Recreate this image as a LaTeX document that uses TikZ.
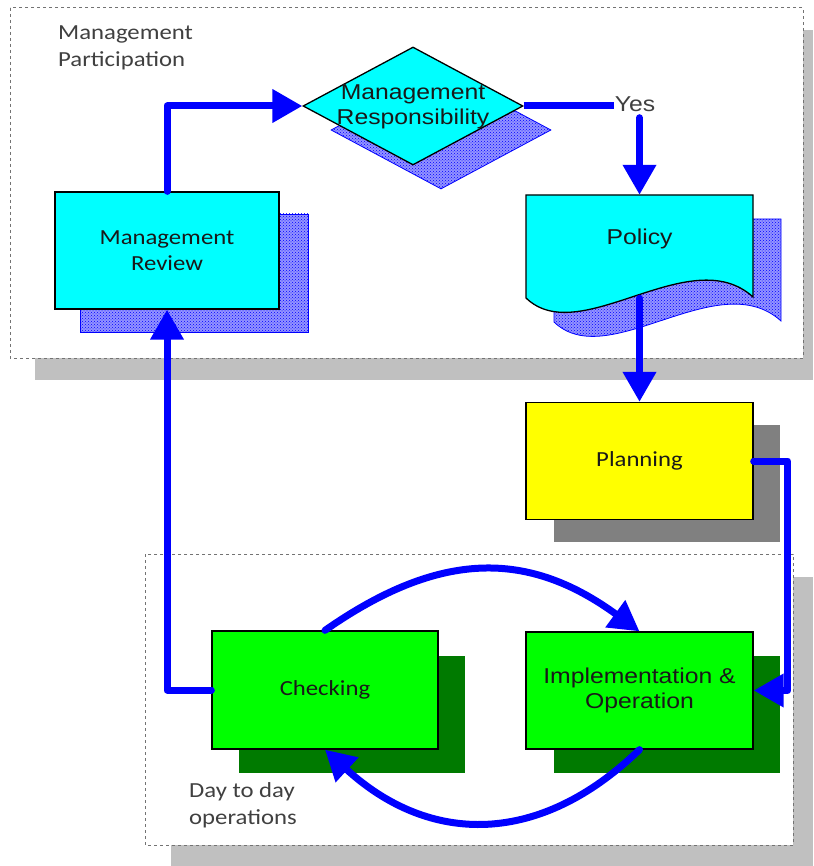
\documentclass[tikz,border=0pt]{standalone}
\usepackage{fontspec}
\setmainfont{Liberation Sans}[FakeStretch=1.15]
\newfontfamily\calfont{Carlito}[FakeStretch=1.15]
\usetikzlibrary{arrows.meta,shapes.geometric,patterns,calc}
\definecolor{shadegray}{RGB}{192,192,192}
\definecolor{midgray}{RGB}{128,128,128}
\definecolor{dkgreen}{RGB}{0,122,0}
\definecolor{labelgray}{RGB}{64,64,64}
\definecolor{mycyan}{RGB}{0,255,255}
\definecolor{mygreen}{RGB}{0,255,0}
\definecolor{myyellow}{RGB}{255,255,0}
\definecolor{myblue}{RGB}{0,0,255}
\begin{document}
\begin{tikzpicture}[x=1pt,y=-1pt,
  arialtxt/.style={font=\fontsize{21.5pt}{25.5pt}\selectfont, align=center, text=black!90},
  caltxt/.style={font=\calfont\fontsize{21.5pt}{26pt}\selectfont, align=center, text=black!90},
  labeltxt/.style={font=\calfont\fontsize{21.5pt}{27pt}\selectfont, align=left, text=labelgray, inner sep=0pt},
  boxsize/.style={minimum width=226pt, minimum height=117pt, inner sep=0pt},
  box/.style={boxsize, draw=black, line width=1.3pt},
  hatch/.style={preaction={fill=myblue!42}, pattern=crosshatch dots, pattern color=myblue, draw=myblue, line width=0.8pt},
  container/.style={draw=black!55, fill=white, line width=1pt, dash pattern=on 3pt off 3pt},
  arr/.style={draw=myblue, line width=7pt, line cap=round, line join=round, -{Triangle[length=30pt,width=32pt]}},
  plainline/.style={draw=myblue, line width=7pt}
]
\useasboundingbox (0,0) rectangle (813,866);

% container shadows and containers
\fill[shadegray] (35,30) rectangle (813,380);
\draw[container] (10,8) rectangle (803,358);
\fill[shadegray] (171,577) rectangle (813,866);
\draw[container] (145,554) rectangle (793,845);

% box shadows
\node[boxsize, minimum width=228pt, minimum height=118pt, hatch] (mrshadow) at (194,273) {};
\node[diamond, minimum width=220pt, minimum height=118pt, inner sep=0pt, hatch] (respshadow) at (441,130) {};
\path[hatch, shift={(28,24)}] (526,195) -- (753,195) -- (753,297)
  .. controls (690,240) and (580,350) .. (526,298) -- cycle;
\node[boxsize, fill=midgray] (planshadow) at (667,483.5) {};
\node[boxsize, fill=dkgreen] (implshadow) at (667,714.5) {};
\node[boxsize, fill=dkgreen] (chkshadow) at (352,714.5) {};

% main shapes
\node[box, minimum width=224pt, fill=mycyan, caltxt] (mr) at (167,250.5) {Management\\Review};
\node[diamond, draw=black, line width=1.3pt, fill=mycyan, minimum width=220pt, minimum height=118pt, inner sep=0pt] (resp) at (413,106) {};
\node[arialtxt] (resptext) at (413,107) {Management\\Responsibility};
\node[minimum width=227pt, minimum height=103pt, inner sep=0pt] (policy) at (639.5,246.5) {};
\draw[black, line width=1.3pt, fill=mycyan] (526,195) -- (753,195) -- (753,297)
  .. controls (690,240) and (580,350) .. (526,298) -- cycle;
\node[arialtxt] (policytext) at (639.5,239) {Policy};
\node[box, minimum width=227pt, fill=myyellow, caltxt] (plan) at (639.5,461) {Planning};
\node[box, minimum width=227pt, fill=mygreen, arialtxt] (impl) at (639.5,690.5) {Implementation \&\\Operation};
\node[box, minimum height=118pt, fill=mygreen, caltxt] (chk) at (325,690) {Checking};

% labels
\node[labeltxt, anchor=north west] (mpart) at (58,26) {Management\\Participation};
\node[labeltxt, anchor=north west] (dayops) at (189,782) {Day to day\\operations};
\node[arialtxt, text=labelgray, inner sep=1pt] (yes) at (635,104) {Yes};

% connectors
\draw[arr] (mr.north) |- (resp.west);
\draw[plainline] (resp.east) -- (resp.east -| yes.west);
\draw[arr] ($(yes.south -| policy.north)+(0,5)$) -- (policy.north);
\draw[arr] (policy.south) -- (plan.north);
\draw[arr] (plan.east) -- ++(34,0) |- (impl.east);
\draw[arr] (chk.north) .. controls (440,550) and (528,550) .. (impl.north);
\draw[arr] (impl.south) .. controls (540,846) and (430,846) .. (chk.south);
\draw[arr] (chk.west) -| (mr.south);
\end{tikzpicture}
\end{document}
